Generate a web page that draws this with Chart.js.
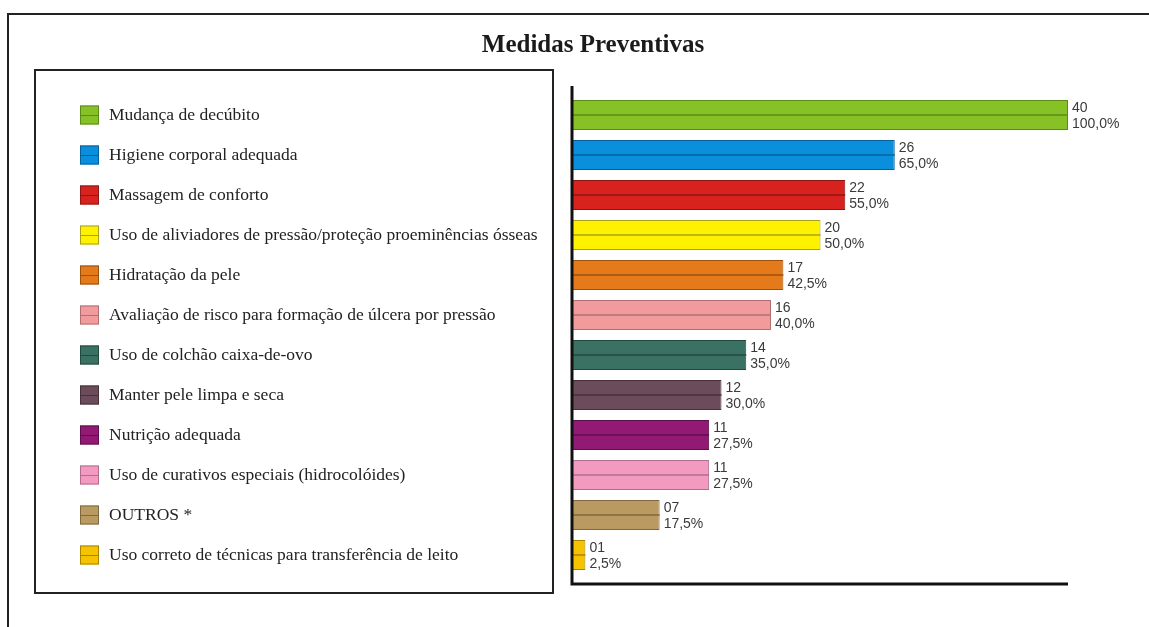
<!DOCTYPE html>
<html>
<head>
<meta charset="utf-8">
<script src="https://cdn.jsdelivr.net/npm/chart.js@4/dist/chart.umd.min.js"></script>
<style>
  html, body { margin: 0; padding: 0; background: #fff; }
  #wrap { width: 1149px; height: 627px; position: relative; }
</style>
</head>
<body>
<div id="wrap"><canvas id="c"></canvas></div>
<script>
// categories and values (n = 40)
const categories = [
  'Mudança de decúbito',
  'Higiene corporal adequada',
  'Massagem de conforto',
  'Uso de aliviadores de pressão/proteção proeminências ósseas',
  'Hidratação da pele',
  'Avaliação de risco para formação de úlcera por pressão',
  'Uso de colchão caixa-de-ovo',
  'Manter pele limpa e seca',
  'Nutrição adequada',
  'Uso de curativos especiais (hidrocolóides)',
  'OUTROS *',
  'Uso correto de técnicas para transferência de leito'
];
const counts = [40, 26, 22, 20, 17, 16, 14, 12, 11, 11, 7, 1];
const percents = ['100,0%', '65,0%', '55,0%', '50,0%', '42,5%', '40,0%', '35,0%', '30,0%', '27,5%', '27,5%', '17,5%', '2,5%'];
const total = 40;

const fillColors = ['#86c226', '#0a8fdc', '#d8221e', '#fff200', '#e47a1a', '#f29b9d', '#3a7163', '#6c4c5a', '#921a75', '#f39ac0', '#bb9a62', '#f6c300'];
const lineColors = ['#5b8a1a', '#07609a', '#8e1614', '#a8a020', '#9a5210', '#b07072', '#24493f', '#46313b', '#5e104c', '#b06e8c', '#7e6840', '#a88400'];

const decor = {
  id: 'decor',
  beforeDraw(chart) {
    const ctx = chart.ctx;
    ctx.save();
    ctx.fillStyle = '#fff';
    ctx.fillRect(0, 0, chart.width, chart.height);
    // outer frame
    ctx.strokeStyle = '#222';
    ctx.lineWidth = 2;
    ctx.beginPath();
    ctx.moveTo(1149, 14); ctx.lineTo(8, 14); ctx.lineTo(8, 627);
    ctx.stroke();
    // title
    ctx.fillStyle = '#1a1a1a';
    ctx.font = 'bold 25px "Liberation Serif", "Times New Roman", serif';
    ctx.textAlign = 'center';
    ctx.textBaseline = 'middle';
    ctx.fillText('Medidas Preventivas', 593, 46);
    // legend box
    ctx.strokeStyle = '#222';
    ctx.lineWidth = 2;
    ctx.strokeRect(35, 70, 518, 523);
    ctx.restore();
  },
  afterDatasetsDraw(chart) {
    const ctx = chart.ctx;
    const meta = chart.getDatasetMeta(0);
    ctx.save();
    meta.data.forEach((bar, i) => {
      const left = chart.scales.x.getPixelForValue(0);
      // middle line in each bar
      ctx.strokeStyle = lineColors[i];
      ctx.lineWidth = 1.5;
      ctx.beginPath();
      ctx.moveTo(left, bar.y);
      ctx.lineTo(bar.x, bar.y);
      ctx.stroke();
      // value labels
      ctx.fillStyle = '#3a3a3a';
      ctx.font = '14px "Liberation Sans", Arial, sans-serif';
      ctx.textAlign = 'left';
      ctx.textBaseline = 'middle';
      ctx.fillText(String(counts[i]).padStart(2, '0'), bar.x + 4, bar.y - 7);
      ctx.fillText(percents[i], bar.x + 4, bar.y + 9);

      // legend entry, aligned with the bar
      const sy = bar.y - 9.5;
      ctx.fillStyle = fillColors[i];
      ctx.fillRect(80, sy, 19, 19);
      ctx.strokeStyle = lineColors[i];
      ctx.lineWidth = 1;
      ctx.strokeRect(80.5, sy + 0.5, 18, 18);
      ctx.beginPath();
      ctx.moveTo(80, bar.y + 0.5);
      ctx.lineTo(99, bar.y + 0.5);
      ctx.stroke();
      ctx.fillStyle = '#222';
      ctx.font = '17.5px "Liberation Serif", "Times New Roman", serif';
      ctx.fillText(categories[i], 109, bar.y);
    });
    // axes
    ctx.strokeStyle = '#111';
    ctx.lineWidth = 3;
    ctx.beginPath();
    ctx.moveTo(572, 86);
    ctx.lineTo(572, 584);
    ctx.lineTo(1068, 584);
    ctx.stroke();
    ctx.restore();
  }
};

new Chart(document.getElementById('c'), {
  type: 'bar',
  data: {
    labels: categories,
    datasets: [{
      data: counts,
      backgroundColor: fillColors,
      borderColor: lineColors,
      borderWidth: 1,
      barPercentage: 0.75,
      categoryPercentage: 1
    }]
  },
  options: {
    indexAxis: 'y',
    responsive: true,
    maintainAspectRatio: false,
    animation: false,
    layout: { padding: { left: 573, right: 81, top: 95, bottom: 52 } },
    scales: {
      x: { min: 0, max: total, display: false },
      y: { display: false }
    },
    plugins: {
      legend: { display: false },
      tooltip: { enabled: false }
    }
  },
  plugins: [decor]
});
</script>
</body>
</html>
